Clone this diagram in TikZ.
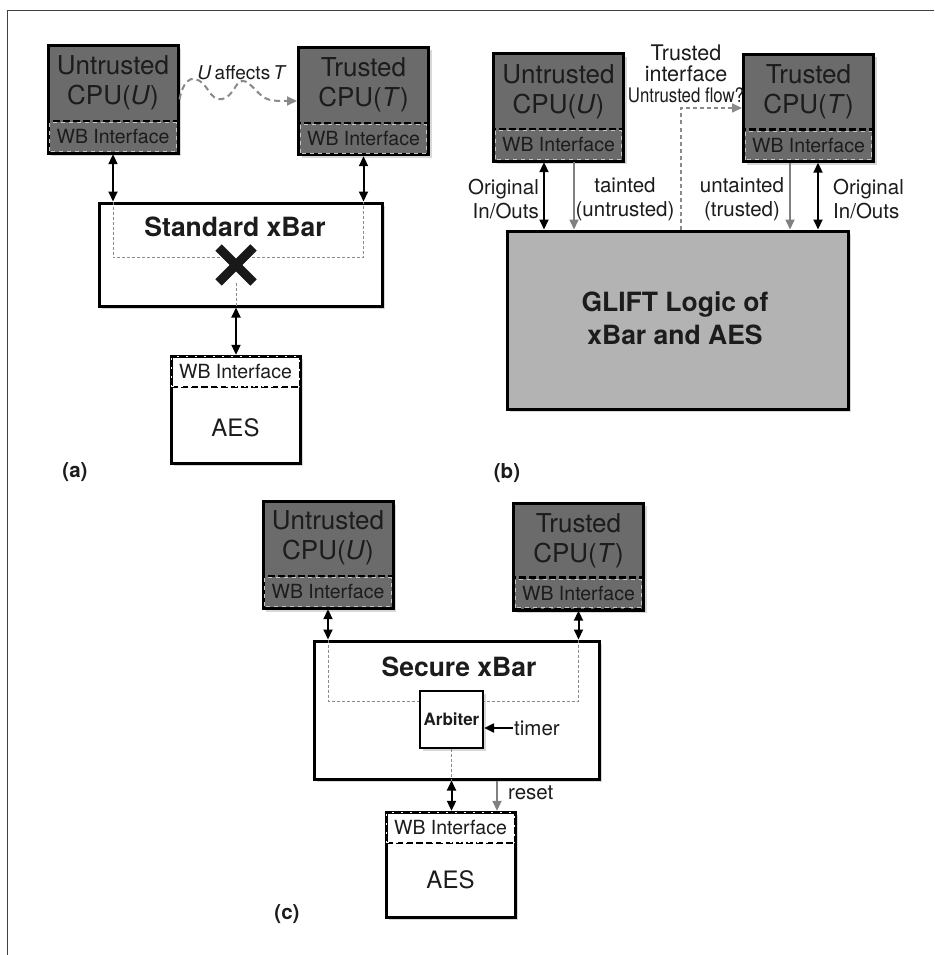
\documentclass[tikz,border=0pt]{standalone}
\usepackage{fontspec}
\setmainfont{TeX Gyre Heros}
\usetikzlibrary{arrows.meta, positioning, calc, shadows, shapes.misc}
\definecolor{cpuGray}{HTML}{6B6B6B}
\definecolor{gliftGray}{HTML}{B3B3B3}
\definecolor{lineGray}{HTML}{8A8A8A}
\definecolor{inkDark}{HTML}{1C1C1C}
\tikzset{
  boxshadow/.style={drop shadow={shadow xshift=3pt, shadow yshift=-3pt, opacity=0.3}},
  cpubox/.style={draw=black, line width=3pt, fill=cpuGray, minimum width=130pt,
                 minimum height=107pt, inner sep=0pt, boxshadow},
  cputext/.style={align=center, text=inkDark, font=\fontsize{26}{30}\selectfont},
  wbcpu/.style={draw=black, line width=2.4pt, dash pattern=on 7pt off 3pt, minimum width=130pt,
                minimum height=32pt, inner sep=0pt, text=inkDark, font=\fontsize{19.5}{22}\selectfont},
  wbaes/.style={wbcpu, minimum width=129pt, minimum height=31pt},
  notchcpu/.style={draw=gray!45, line width=0.9pt, dash pattern=on 4pt off 4pt},
  notchaes/.style={draw=white, line width=1.4pt, dash pattern=on 2pt off 7pt},
  aesbox/.style={draw=black, line width=3pt, fill=white, minimum width=129pt,
                 minimum height=107pt, inner sep=0pt, boxshadow},
  xbarbox/.style={draw=black, line width=3pt, fill=white, inner sep=0pt, boxshadow},
  title/.style={font=\bfseries\fontsize{26.5}{33}\selectfont, align=center, text=inkDark},
  lbl/.style={font=\fontsize{20.5}{24.5}\selectfont, align=center, text=inkDark, inner sep=1pt},
  panel/.style={font=\bfseries\fontsize{20.5}{24}\selectfont, text=inkDark},
  bus/.style={{Triangle[length=10pt,width=9pt]}-{Triangle[length=10pt,width=9pt]}, line width=2pt, black},
  taint/.style={-{Triangle[length=10pt,width=9pt]}, line width=1.7pt, gray},
  route/.style={lineGray, line width=0.8pt, dash pattern=on 3pt off 2pt},
  flow/.style={-{Triangle[length=10pt,width=9pt]}, lineGray, line width=1.6pt, dash pattern=on 4pt off 3pt},
  wave/.style={-{Triangle[length=10pt,width=9pt]}, lineGray, line width=2pt, dash pattern=on 6pt off 4pt},
}

\begin{document}
\begin{tikzpicture}[x=1pt, y=-1pt]
    \useasboundingbox[fill=white] (0,0) rectangle (934,955);
    % frame
    \coordinate (frametl) at (7,11);
    \coordinate (frametr) at (934,11);
    \coordinate (framebl) at (7,955);
    \draw[line width=1pt, black!75] (frametr) -- (frametl) -- (framebl);

    % (a) standard xbar
    \node[cpubox] (ua) at (113,99.5) {};
    \node[cputext] (uatxt) at (113,83) {Untrusted\\CPU(\textit{U})};
    \node[wbcpu] (uawb) at (113,137) {WB Interface};
    \draw[notchcpu] ([shift={(3pt,3pt)}]uawb.south west) rectangle ([shift={(-3pt,-3pt)}]uawb.north east);
    \node[cpubox] (ta) at (363.5,101) {};
    \node[cputext] (tatxt) at (363.5,85) {Trusted\\CPU(\textit{T})};
    \node[wbcpu] (tawb) at (363.5,139) {WB Interface};
    \draw[notchcpu] ([shift={(3pt,3pt)}]tawb.south west) rectangle ([shift={(-3pt,-3pt)}]tawb.north east);
    \draw[wave] (ua.east) .. controls (184,76) and (196,72) .. (208,90)
      .. controls (216,103) and (226,103) .. (236,86)
      .. controls (244,73) and (252,88) .. (262,96)
      .. controls (268,101) and (276,101) .. (ta.west);
    \node[lbl, font=\fontsize{19}{22}\selectfont] (affects) at (242,73) {\textit{U}\,affects\,\textit{T}};
    \node[xbarbox, minimum width=283pt, minimum height=103pt] (xbara) at (240.5,254.5) {};
    \node[title] (xbaratitle) at (235,227) {Standard xBar};
    \draw[bus] (uawb.south) -- (uawb.south |- xbara.north);
    \draw[bus] (tawb.south) -- (tawb.south |- xbara.north);
    \draw[route] (uawb.south |- xbara.north) -- ++(0,56) -| (tawb.south |- xbara.north);
    \node[cross out, draw=black!90, line width=9pt, minimum size=26pt, inner sep=0pt] (xa) at (236,265) {};
    \draw[route] (xa) -- (xa |- xbara.south);
    \node[aesbox] (aesa) at (235.5,409.5) {};
    \node[wbaes] (aesawb) at (235.5,371.5) {WB Interface};
    \draw[notchaes] ([shift={(1.5pt,1.5pt)}]aesawb.south west) rectangle ([shift={(-1.5pt,-1.5pt)}]aesawb.north east);
    \node[cputext, font=\fontsize{24}{28}\selectfont] (aesatxt) at (235.5,428) {AES};
    \draw[bus] (xa |- xbara.south) -- (xa |- aesawb.north);
    \node[panel] (capa) at (75,472) {(a)};

    % (b) glift
    \node[cpubox] (ub) at (558.5,107.5) {};
    \node[cputext] (ubtxt) at (558.5,92) {Untrusted\\CPU(\textit{U})};
    \node[wbcpu] (ubwb) at (558.5,145) {WB Interface};
    \draw[notchcpu] ([shift={(3pt,3pt)}]ubwb.south west) rectangle ([shift={(-3pt,-3pt)}]ubwb.north east);
    \node[cpubox] (tb) at (808.5,108) {};
    \node[cputext] (tbtxt) at (808.5,92) {Trusted\\CPU(\textit{T})};
    \node[wbcpu] (tbwb) at (808.5,145.5) {WB Interface};
    \draw[notchcpu] ([shift={(3pt,3pt)}]tbwb.south west) rectangle ([shift={(-3pt,-3pt)}]tbwb.north east);
    \node[xbarbox, fill=gliftGray, minimum width=341pt, minimum height=178pt] (glift) at (677.5,320) {};
    \node[title] (glifttxt) at (675,318) {GLIFT Logic of\\xBar and AES};
    \draw[bus] ([xshift=-14.5pt]ubwb.south) -- ([xshift=-14.5pt]ubwb.south |- glift.north);
    \draw[taint] ([xshift=15.5pt]ubwb.south) -- ([xshift=15.5pt]ubwb.south |- glift.north);
    \draw[taint] ([xshift=-18.5pt]tbwb.south) -- ([xshift=-18.5pt]tbwb.south |- glift.north);
    \draw[bus] ([xshift=9.5pt]tbwb.south) -- ([xshift=9.5pt]tbwb.south |- glift.north);
    \draw[flow] ([xshift=3.5pt]glift.north) |- (tb.west);
    \node[lbl, anchor=east, align=right] (origl) at (540,199) {Original\\In/Outs};
    \node[lbl] (taintl) at (625,199) {tainted\\(untrusted)};
    \node[lbl] (untaintl) at (742,199) {untainted\\(trusted)};
    \node[lbl, align=left, anchor=west] (origr) at (832,199) {Original\\In/Outs};
    \node[lbl, font=\fontsize{21.5}{21}\selectfont] (flowl) at (686,74)
      {Trusted\\interface\\\scalebox{0.84}[1]{\fontsize{20}{21}\selectfont Untrusted flow?}};
    \node[panel] (capb) at (507,473) {(b)};

    % (c) secure xbar
    \node[cpubox] (uc) at (328,555) {};
    \node[cputext] (uctxt) at (328,538) {Untrusted\\CPU(\textit{U})};
    \node[wbcpu] (ucwb) at (328,592) {WB Interface};
    \draw[notchcpu] ([shift={(3pt,3pt)}]ucwb.south west) rectangle ([shift={(-3pt,-3pt)}]ucwb.north east);
    \node[cpubox] (tc) at (578.5,556.5) {};
    \node[cputext] (tctxt) at (578.5,541) {Trusted\\CPU(\textit{T})};
    \node[wbcpu] (tcwb) at (578.5,593.5) {WB Interface};
    \draw[notchcpu] ([shift={(3pt,3pt)}]tcwb.south west) rectangle ([shift={(-3pt,-3pt)}]tcwb.north east);
    \node[xbarbox, minimum width=285pt, minimum height=138pt] (xbarc) at (456.5,710) {};
    \node[title] (xbarctitle) at (459,667) {Secure xBar};
    \draw[bus] (ucwb.south) -- (ucwb.south |- xbarc.north);
    \draw[bus] (tcwb.south) -- (tcwb.south |- xbarc.north);
    \node[xbarbox, line width=2.2pt, minimum width=63pt, minimum height=57pt,
          font=\bfseries\fontsize{17}{20}\selectfont, text=inkDark] (arb) at (451.5,719.5) {Arbiter};
    \draw[route] (ucwb.south |- xbarc.north) |- ([yshift=-11pt]arb.north west);
    \draw[route] (tcwb.south |- xbarc.north) |- ([yshift=-11pt]arb.north east);
    \draw[route] (arb.south) -- (arb.south |- xbarc.south);
    \node[lbl, anchor=west] (timer) at (513,728) {timer};
    \draw[-{Triangle[length=10pt,width=9pt]}, line width=2pt] (timer.west) -- (timer.west -| arb.east);
    \node[aesbox, minimum height=105pt] (aesc) at (450.5,864.5) {};
    \node[wbaes] (aescwb) at (450.5,827.5) {WB Interface};
    \draw[notchaes] ([shift={(1.5pt,1.5pt)}]aescwb.south west) rectangle ([shift={(-1.5pt,-1.5pt)}]aescwb.north east);
    \node[cputext, font=\fontsize{24}{28}\selectfont] (aesctxt) at (450.5,880) {AES};
    \draw[bus] (arb.south |- xbarc.south) -- (arb.south |- aescwb.north);
    \draw[taint] ([xshift=46.5pt]aescwb.north |- xbarc.south) -- ([xshift=46.5pt]aescwb.north);
    \node[lbl, anchor=west] (resetl) at (507,793) {reset};
    \node[panel] (capc) at (287,914) {(c)};
\end{tikzpicture}
\end{document}
